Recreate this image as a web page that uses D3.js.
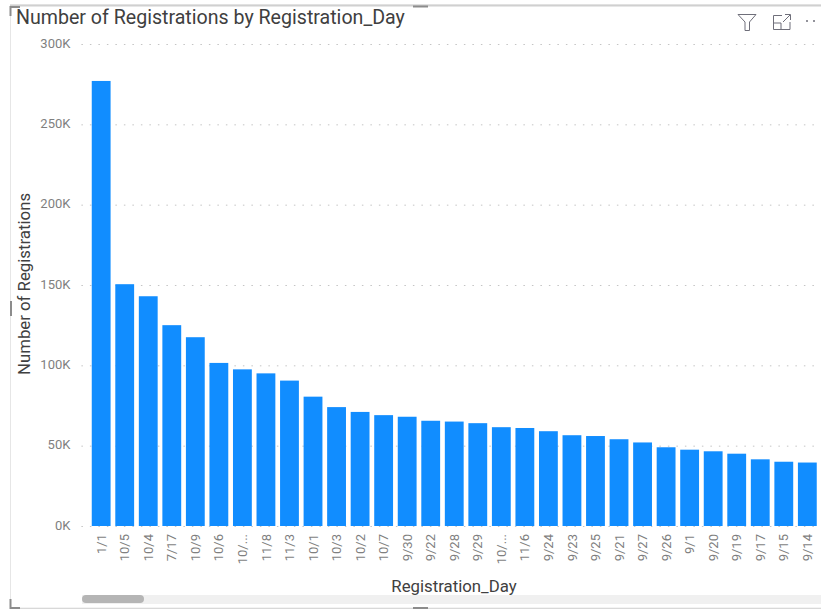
<!DOCTYPE html>
<html>
<head>
<meta charset="utf-8">
<script src="https://cdn.jsdelivr.net/npm/d3@7"></script>
<style>
    html, body { margin: 0; padding: 0; background: #fff; }
    text { font-family: "Roboto", "Noto Sans", sans-serif; }
</style>
</head>
<body>
<div id="wrapper"></div>
<script>
const days = ["1/1","10/5","10/4","7/17","10/9","10/6","10/...","11/8","11/3","10/1","10/3","10/2","10/7","9/30","9/22","9/28",
    "9/29","10/...","11/6","9/24","9/23","9/25","9/21","9/27","9/26","9/1","9/20","9/19","9/17","9/15","9/14"];
const registrations = [277000,150500,143000,125000,117500,101500,97500,95000,90500,80500,74000,71000,69000,68000,65500,65000,
    64000,61500,61000,59000,56500,56000,54000,52000,49000,47500,46500,45000,41500,40000,39500];
const yTicks = [0,50000,100000,150000,200000,250000,300000];

const width = 821, height = 610;
const plot = { left: 89.4, right: 819.1, top: 44, bottom: 526 };

const svg = d3.select("#wrapper").append("svg")
    .attr("width", width)
    .attr("height", height)
    .style("display", "block");

// visual frame
svg.append("rect").attr("x", 10.5).attr("y", 5).attr("width", 811).attr("height", 603)
    .attr("fill", "none").attr("stroke", "#e6e6e6");
svg.append("line").attr("x1", 10).attr("x2", 821).attr("y1", 5.5).attr("y2", 5.5)
    .attr("stroke", "#d0d0d0").attr("stroke-width", 2);
svg.append("line").attr("x1", 10).attr("x2", 821).attr("y1", 608.5).attr("y2", 608.5)
    .attr("stroke", "#d8d8d8").attr("stroke-width", 1);

// resize handles
const grips = ["M10.5,16V7H20", "M10.5,599V608H20", "M413,6.5H428", "M413,608H428", "M11,301V316"];
svg.selectAll(".grip").data(grips).enter().append("path")
    .attr("class", "grip")
    .attr("d", d => d)
    .attr("fill", "none")
    .attr("stroke", "#8c8c8c")
    .attr("stroke-width", 2);

const x = d3.scaleBand()
    .domain(d3.range(days.length))
    .range([plot.left, plot.right])
    .paddingInner(0.2)
    .paddingOuter(0.1);

const y = d3.scaleLinear()
    .domain([0, 300000])
    .range([plot.bottom, plot.top]);

// y axis with dotted grid
const yAxis = svg.append("g")
    .attr("transform", `translate(${plot.left - 8},0)`)
    .call(d3.axisLeft(y).tickValues(yTicks).tickFormat(d => (d / 1000) + "K").tickSize(0).tickPadding(11));
yAxis.select(".domain").remove();
yAxis.selectAll("text").attr("fill", "#7f7f7f").attr("font-size", 13).attr("dy", "0.25em");
yAxis.selectAll("line")
    .attr("x2", plot.right - plot.left + 8)
    .attr("stroke", "#c4c4c4")
    .attr("stroke-width", 1)
    .attr("stroke-dasharray", "1.5 7");

// bars
svg.append("g").selectAll("rect")
    .data(registrations)
    .enter()
    .append("rect")
    .attr("x", (d, i) => x(i))
    .attr("y", d => y(d))
    .attr("width", x.bandwidth())
    .attr("height", d => y(0) - y(d))
    .attr("fill", "#118dff");

// x axis, rotated labels
const xAxis = svg.append("g")
    .attr("transform", `translate(0,${plot.bottom})`)
    .call(d3.axisBottom(x).tickFormat(i => days[i]).tickSize(0));
xAxis.select(".domain").remove();
xAxis.selectAll("text")
    .attr("fill", "#7f7f7f")
    .attr("font-size", 13)
    .attr("transform", "rotate(-90)")
    .attr("text-anchor", "end")
    .attr("x", -8)
    .attr("y", 0)
    .attr("dy", "0.35em");

// titles
svg.append("text").attr("x", 16).attr("y", 24)
    .text("Number of Registrations by Registration_Day")
    .attr("fill", "#404040")
    .attr("font-size", 19.6);

svg.append("text").attr("x", 454).attr("y", 592)
    .text("Registration_Day")
    .attr("fill", "#404040")
    .attr("font-size", 16.8)
    .attr("text-anchor", "middle");

svg.append("text")
    .attr("transform", "translate(30,284) rotate(-90)")
    .text("Number of Registrations")
    .attr("fill", "#404040")
    .attr("font-size", 16.8)
    .attr("text-anchor", "middle");

// scrollbar
svg.append("rect").attr("x", 82).attr("y", 595).attr("width", 739).attr("height", 9).attr("fill", "#f0f0f0");
svg.append("rect").attr("x", 82).attr("y", 595).attr("width", 62).attr("height", 8).attr("rx", 4).attr("fill", "#b5b5b5");

// header icons
const icons = svg.append("g").attr("fill", "none").attr("stroke", "#6f6f7a").attr("stroke-width", 1);
icons.append("path").attr("d", "M738,14.5H756L749.5,22V30.5H745V22Z");
icons.append("path").attr("d", "M782,15.5H773.5V29.5H790V22M773.5,23H781V29.5M783,22L790,15M785,14.5H790.5V20");
svg.selectAll(".dot").data([807, 814]).enter().append("circle")
    .attr("class", "dot")
    .attr("cx", d => d)
    .attr("cy", 21)
    .attr("r", 1)
    .attr("fill", "#6f6f7a");
</script>
</body>
</html>
